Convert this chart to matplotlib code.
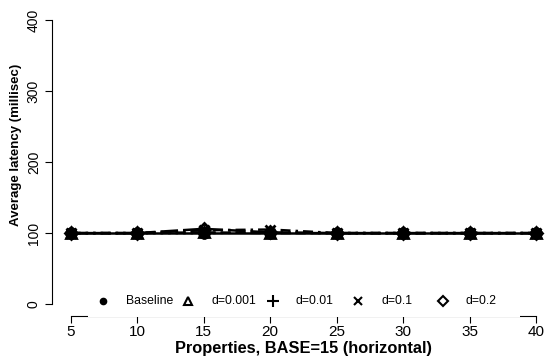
import matplotlib
matplotlib.use("Agg")
import matplotlib.pyplot as plt
from matplotlib.lines import Line2D
from matplotlib.patches import Rectangle

plt.rcParams['font.family'] = ['Liberation Sans', 'DejaVu Sans']

properties = [5, 10, 15, 20, 25, 30, 35, 40]
baseline = [100, 100, 100, 100, 100, 100, 100, 100]
d_0001 = [100, 100, 101, 100, 100, 100, 100, 100]
d_001 = [100, 100, 100, 101, 100, 100, 100, 100]
d_01 = [100, 100, 104, 105, 100, 100, 100, 100]
d_02 = [100, 100, 106, 101, 100, 100, 100, 100]
labels = ["Baseline", "d=0.001", "d=0.01", "d=0.1", "d=0.2"]
xticks = [5, 10, 15, 20, 25, 30, 35, 40]
yticks = [0, 100, 200, 300, 400]

W, H = 547, 362
fig = plt.figure(figsize=(W / 100, H / 100), dpi=100)
left, right, top, bottom = 52, 555, 8.6, 315.5
ax = fig.add_axes([left / W, (H - bottom) / H, (right - left) / W, (bottom - top) / H])

series = [baseline, d_0001, d_001, d_01, d_02]
markers = ['o', '^', '+', 'x', 'D']
styles = ['-', (0, (4, 2)), (0, (1, 2)), (0, (1, 2, 4, 2)), (0, (7, 2))]
msizes = [7, 7, 9, 7, 6]
for s, m, ls, ms in zip(series, markers, styles, msizes):
    filled = m == 'o'
    ax.plot(properties, s, linestyle=ls, color='black', linewidth=1.8,
            marker=m, markersize=ms, markeredgewidth=2,
            markerfacecolor='black' if filled else 'none', markeredgecolor='black')

ax.set_xlim(5 - 1.4, 40 + 1.4)
ax.set_ylim(-16, 416)
for sp in ['top', 'right']:
    ax.spines[sp].set_visible(False)
ax.spines['left'].set_bounds(0, 400)
ax.spines['bottom'].set_bounds(5, 40)
ax.set_xticks(xticks)
ax.set_yticks(yticks)
ax.set_xticklabels([str(v) for v in xticks], fontsize=11)
ax.set_yticklabels([str(v) for v in yticks], fontsize=10, rotation=90, va='center')
ax.tick_params(axis='x', direction='out', length=5, width=0.8, pad=1.5)
ax.tick_params(axis='y', direction='out', length=5, width=0.8, pad=3)

fig.text(303.5 / W, 1 - 348 / H, "Properties, BASE=15 (horizontal)", ha='center', va='center',
         fontsize=11.8, fontweight='bold')
fig.text(16 / W, 1 - 145 / H, "Average latency (millisec)", ha='center', va='center',
         fontsize=9.5, fontweight='bold', rotation=90)

# legend (manual, R-style equal column widths)
tr = fig.transFigure
bg = Rectangle((88 / W, 1 - 317.2 / H), (520 - 88) / W, 33 / H, transform=tr,
               facecolor='white', edgecolor='none', zorder=5)
fig.patches.append(bg)
ly = 1 - 300.5 / H
mx = [102.7, 187.5, 272.5, 357.5, 442.5]
leg_ms = [4, 6, 8, 6, 5]
for i, lab in enumerate(labels):
    m = markers[i]
    fig.add_artist(Line2D([mx[i] / W], [ly], transform=tr, marker=m, linestyle='none',
                          markersize=leg_ms[i], markeredgewidth=1.5, color='black',
                          markerfacecolor='black' if m == 'o' else 'none', zorder=6))
    fig.text((mx[i] + 23.5) / W, ly, lab, ha='left', va='center', fontsize=8.8, zorder=6)

fig.savefig("out.png", dpi=100)
